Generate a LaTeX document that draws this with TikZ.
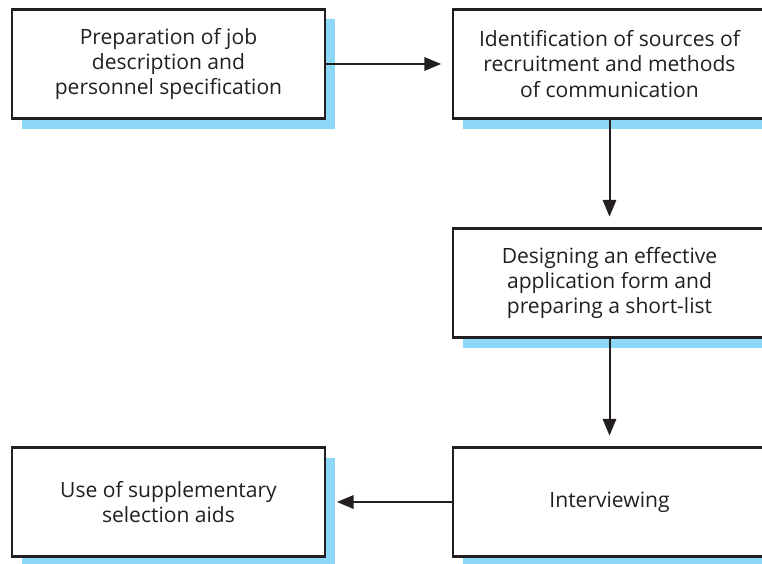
\documentclass[tikz,border=0pt]{standalone}
\usepackage{fontspec}
\setmainfont{Open Sans}
\usetikzlibrary{shadows,arrows.meta}

\definecolor{boxline}{HTML}{231F20}
\definecolor{shadowblue}{HTML}{8DD8F8}

\tikzset{
  stage/.style={draw=boxline, line width=1.8pt, fill=white,
    minimum width=234.75pt, minimum height=81.75pt, align=center,
    text=boxline, font=\fontsize{15.8}{19}\selectfont,
    general shadow={draw=none, fill=shadowblue,
      shadow xshift=7.5pt, shadow yshift=-7.5pt}},
  flow/.style={draw=boxline, line width=1.5pt,
    -{Triangle[length=12.5pt,width=10pt]}, shorten >=8pt}
}

\begin{document}
\begin{tikzpicture}[x=0.75pt, y=-0.75pt]
\useasboundingbox (0,0) rectangle (762,563);

% the five stages
\node[stage] (jobdesc)   at (168.5,64)  {Preparation of job\\description and\\personnel specification};
\node[stage] (sources)   at (609.5,64)  {Identification of sources of\\recruitment and methods\\of communication};
\node[stage] (appform)   at (609.5,283) {Designing an effective\\application form and\\preparing a short-list};
\node[stage] (interview) at (609.5,502) {Interviewing};
\node[stage] (aids)      at (168.5,502) {Use of supplementary\\selection aids};

% connectors
\draw[flow] (jobdesc) -- (sources);%
\draw[flow] (sources) -- (appform);%
\draw[flow] (appform) -- (interview);%
\draw[flow] (interview) -- (aids);%

\end{tikzpicture}
\end{document}
